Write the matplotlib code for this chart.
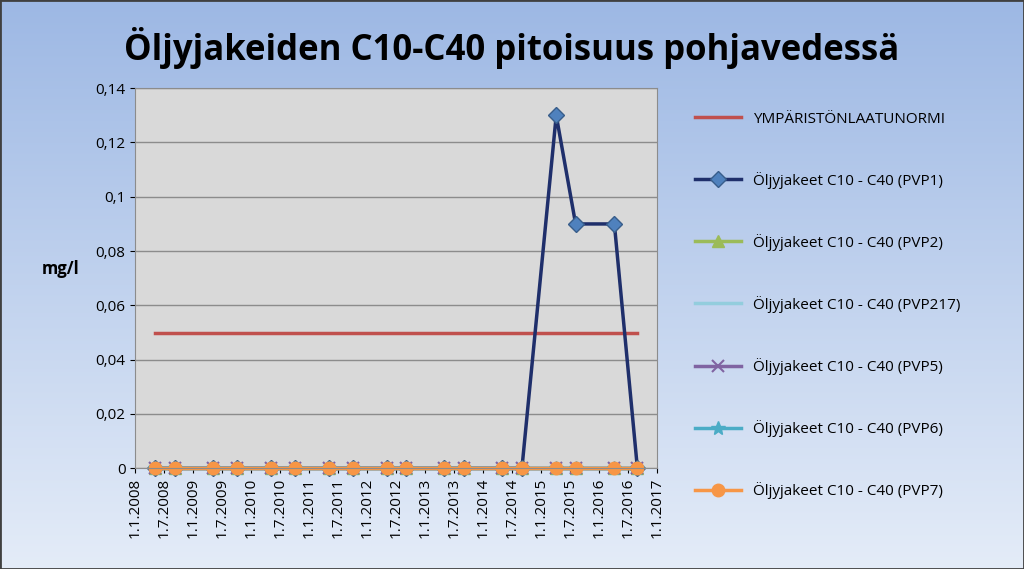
import numpy as np
import pandas as pd
import matplotlib
matplotlib.use('Agg')
import matplotlib.pyplot as plt
from matplotlib.colors import LinearSegmentedColormap

plt.rcParams['font.family'] = 'Open Sans'

# ── data ──
sample_dates = pd.to_datetime([
    '2008-05-05', '2008-09-10', '2009-05-05', '2009-10-05', '2010-05-05', '2010-10-05',
    '2011-05-05', '2011-10-05', '2012-05-05', '2012-09-01', '2013-05-01', '2013-09-01',
    '2014-05-01', '2014-09-01', '2015-04-05', '2015-08-05', '2016-04-05', '2016-08-28',
])
norm = [0.05] * len(sample_dates)
pvp1 = [0, 0, 0, 0, 0, 0, 0, 0, 0, 0, 0, 0, 0, 0, 0.13, 0.09, 0.09, 0]
zeros = [0] * len(sample_dates)
tick_dates = pd.date_range('2008-01-01', '2017-01-01', freq='6MS')
tick_labels = [f'{d.day}.{d.month}.{d.year}' for d in tick_dates]

fig = plt.figure(figsize=(10.24, 5.69), dpi=100)

# background gradient
bg = fig.add_axes([0, 0, 1, 1], zorder=-10)
grad = np.linspace(0, 1, 256).reshape(-1, 1)
cmap = LinearSegmentedColormap.from_list('bg', ['#e4ecf8', '#9db8e4'])
bg.imshow(grad, aspect='auto', cmap=cmap, extent=[0, 1, 0, 1], origin='lower')
bg.set_xticks([])
bg.set_yticks([])
for s in bg.spines.values():
    s.set_color('#404040')
    s.set_linewidth(2)

ax = fig.add_axes([0.132, 0.177, 0.51, 0.668])
ax.set_facecolor('#d9d9d9')

kw = dict(lw=2.5, clip_on=False)
ax.plot(sample_dates, norm, color='#c0504d', label='YMPÄRISTÖNLAATUNORMI', **kw)
ax.plot(sample_dates, pvp1, color='#1f2f6b', marker='D', ms=8,
        mfc='#4f81bd', mec='#385d8a', label='Öljyjakeet C10 - C40 (PVP1)', **kw)
ax.plot(sample_dates, zeros, color='#9bbb59', marker='^', ms=9,
        label='Öljyjakeet C10 - C40 (PVP2)', **kw)
ax.plot(sample_dates, zeros, color='#93cddd', label='Öljyjakeet C10 - C40 (PVP217)', **kw)
ax.plot(sample_dates, zeros, color='#8064a2', marker='x', ms=9, mew=1.5,
        label='Öljyjakeet C10 - C40 (PVP5)', **kw)
ax.plot(sample_dates, zeros, color='#4bacc6', marker='*', ms=10,
        label='Öljyjakeet C10 - C40 (PVP6)', **kw)
ax.plot(sample_dates, zeros, color='#f79646', marker='o', ms=9,
        mfc='#f79646', mec='#f79646', label='Öljyjakeet C10 - C40 (PVP7)', **kw)

ax.set_ylim(0, 0.14)
ax.set_yticks(np.arange(0, 0.141, 0.02))
ax.set_yticklabels(['0', '0,02', '0,04', '0,06', '0,08', '0,1', '0,12', '0,14'], fontsize=11)
ax.set_xlim(tick_dates[0], tick_dates[-1])
ax.set_xticks(tick_dates)
ax.set_xticklabels(tick_labels, rotation=90, fontsize=11)
ax.grid(axis='y', color='#8c8c8c', lw=1)
ax.set_axisbelow(True)
ax.set_ylabel('mg/l', rotation=0, fontsize=12, fontweight='bold', labelpad=25)
for s in ax.spines.values():
    s.set_color('#8c8c8c')

fig.text(0.5, 0.915, 'Öljyjakeiden C10-C40 pitoisuus pohjavedessä', ha='center', va='center',
         fontsize=25, fontweight='bold')

fig.legend(loc='upper left', bbox_to_anchor=(0.665, 0.828), frameon=False, fontsize=11,
           labelspacing=2.95, handlelength=3)

fig.savefig('out.png', dpi=100)
